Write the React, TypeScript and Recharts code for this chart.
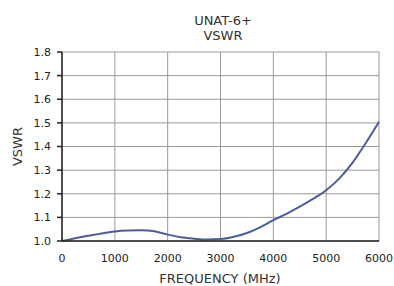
import React from 'react';
import { LineChart, Line, XAxis, YAxis, CartesianGrid } from 'recharts';

const frequencies = [0, 250, 500, 750, 1000, 1250, 1500, 1750, 2000, 2250, 2500, 2750, 3000, 3250, 3500, 3750, 4000, 4250, 4500, 4750, 5000, 5250, 5500, 5750, 6000];
const vswr = [1.0, 1.012, 1.022, 1.032, 1.04, 1.044, 1.045, 1.041, 1.027, 1.016, 1.01, 1.006, 1.008, 1.018, 1.034, 1.058, 1.088, 1.115, 1.145, 1.178, 1.215, 1.265, 1.332, 1.415, 1.505];
const xTicks = [0, 1000, 2000, 3000, 4000, 5000, 6000];
const yTicks = [1.0, 1.1, 1.2, 1.3, 1.4, 1.5, 1.6, 1.7, 1.8];
const titleLines = ['UNAT-6+', 'VSWR'];
const xTitle = 'FREQUENCY (MHz)';
const yTitle = 'VSWR';

const data = frequencies.map((f, i) => ({ f, v: vswr[i] }));

const FONT = 'DejaVu Sans, sans-serif';

export default function App() {
  return (
    <div style={{ position: 'absolute', left: 0, top: 0, width: 394, height: 286, background: '#fff' }}>
      <LineChart width={394} height={286} data={data} margin={{ top: 52, right: 15, bottom: 15, left: 0 }}>
        <CartesianGrid stroke="#9a9a9a" strokeWidth={1} />
        <XAxis
          dataKey="f"
          type="number"
          domain={[0, 6000]}
          ticks={xTicks}
          height={30}
          tickLine={false}
          tickSize={0}
          tickMargin={13}
          stroke="#222"
          strokeWidth={1.5}
          tick={{ fill: '#222', fontSize: 11, fontFamily: FONT }}
          interval={0}
        />
        <YAxis
          type="number"
          domain={[1.0, 1.8]}
          ticks={yTicks}
          width={62}
          tickSize={5}
          tickMargin={6}
          stroke="#222"
          strokeWidth={1.5}
          tickFormatter={(v: number) => v.toFixed(1)}
          tick={{ fill: '#222', fontSize: 11, fontFamily: FONT }}
          interval={0}
        />
        <Line type="monotone" dataKey="v" stroke="#4d5c9c" strokeWidth={2} dot={false} isAnimationActive={false} />
      </LineChart>
      <svg width={394} height={286} style={{ position: 'absolute', left: 0, top: 0, pointerEvents: 'none' }}>
        <text x={223} y={24.5} textAnchor="middle" fontFamily={FONT} fontSize={13} fill="#333">{titleLines[0]}</text>
        <text x={223} y={40} textAnchor="middle" fontFamily={FONT} fontSize={13} fill="#333">{titleLines[1]}</text>
        <text x={220} y={283} textAnchor="middle" fontFamily={FONT} fontSize={13} fill="#333">{xTitle}</text>
        <text x={21.5} y={146.5} textAnchor="middle" fontFamily={FONT} fontSize={13} fill="#333" transform="rotate(-90 21.5 146.5)">{yTitle}</text>
      </svg>
    </div>
  );
}
